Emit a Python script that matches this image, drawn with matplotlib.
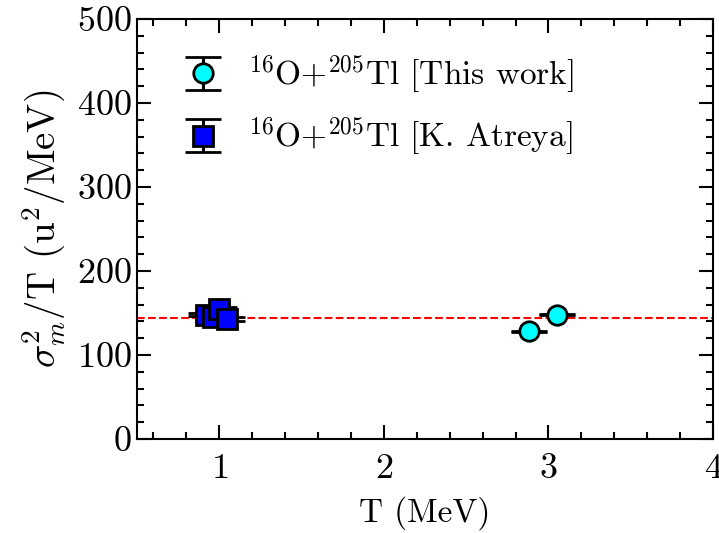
import matplotlib
matplotlib.use("Agg")
import matplotlib.pyplot as plt
from matplotlib.ticker import MultipleLocator

plt.rcParams['font.family'] = 'cmr10'
plt.rcParams['mathtext.fontset'] = 'cm'
plt.rcParams['axes.formatter.use_mathtext'] = True

# Data
T_this = [2.88, 3.05]
Y_this = [128, 148]
Yerr_this = [1.0, 1.0]

T_atr = [0.92, 0.96, 1.00, 1.05]
Y_atr = [148, 145, 155, 143]
Yerr_atr = [2.0, 2.0, 2.0, 2.0]

ref_level = 144
xlim = (0.5, 4.0)
ylim = (0, 500)

fig = plt.figure(figsize=(7.19, 5.33), dpi=100)
ax = fig.add_axes([0.1905, 0.1764, 0.8012, 0.788])

ax.errorbar(T_this, Y_this, yerr=Yerr_this, fmt='o', color='black',
            mfc='cyan', mec='black', mew=2, ms=14, capsize=13, capthick=2.2,
            elinewidth=2.2, zorder=3,
            label=r'$^{16}\mathrm{O}$+$^{205}\mathrm{Tl}$ [This work]')
ax.errorbar(T_atr, Y_atr, yerr=Yerr_atr, fmt='s', color='black',
            mfc='blue', mec='black', mew=2, ms=14, capsize=13, capthick=2.2,
            elinewidth=2.2, zorder=3,
            label=r'$^{16}\mathrm{O}$+$^{205}\mathrm{Tl}$ [K. Atreya]')
ax.axhline(ref_level, color='red', ls='--', lw=1.5, zorder=1)

ax.set_xlim(*xlim)
ax.set_ylim(*ylim)
ax.xaxis.set_major_locator(MultipleLocator(1))
ax.xaxis.set_minor_locator(MultipleLocator(0.2))
ax.yaxis.set_major_locator(MultipleLocator(100))
ax.yaxis.set_minor_locator(MultipleLocator(20))
ax.tick_params(which='both', direction='in', top=True, right=True, labelsize=26, width=1.5)
ax.tick_params(which='major', length=10)
ax.tick_params(which='minor', length=5)
ax.tick_params(axis='x', which='major', pad=10)
for s in ax.spines.values():
    s.set_linewidth(1.5)

ax.set_xlabel('T (MeV)', fontsize=24, labelpad=8)
ax.set_ylabel(r'$\sigma_m^2$/T (u$^2$/MeV)', fontsize=28, labelpad=7)

ax.legend(loc='upper left', frameon=False, fontsize=24, bbox_to_anchor=(0.02, 0.99),
          handletextpad=0.6, labelspacing=0.6, handlelength=1.5)

fig.savefig('out.png', dpi=100)
